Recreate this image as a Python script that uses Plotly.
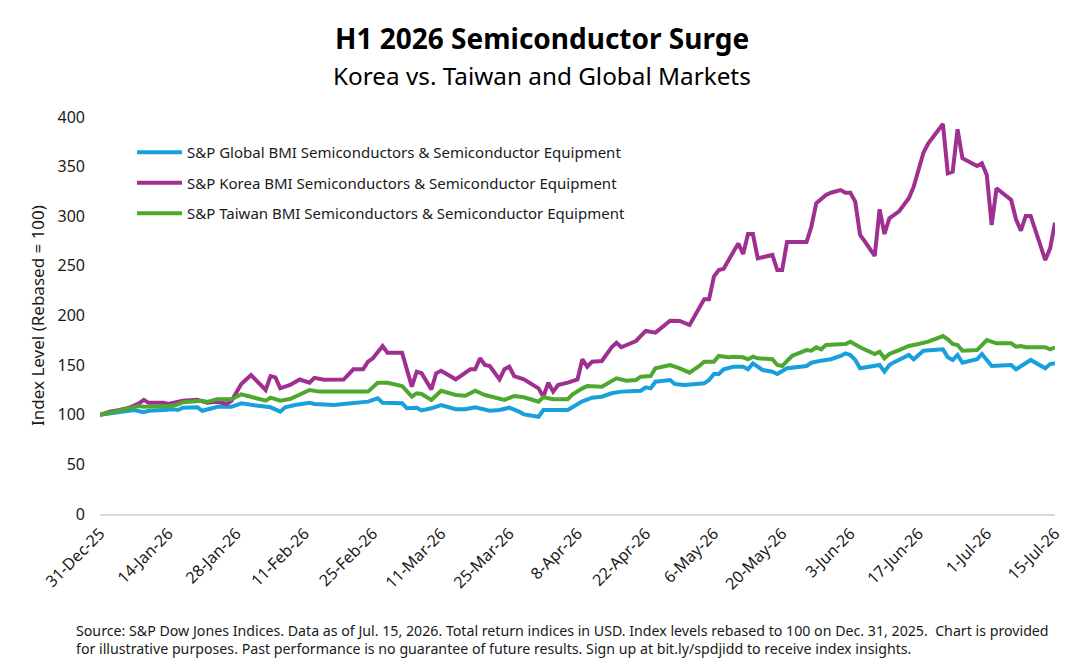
import plotly.graph_objects as go

# ---------------- data ----------------
global_dates = ["2025-12-31", "2026-01-03", "2026-01-05", "2026-01-07", "2026-01-09", "2026-01-10",
                "2026-01-13", "2026-01-15", "2026-01-16", "2026-01-17", "2026-01-20", "2026-01-21",
                "2026-01-23", "2026-01-24", "2026-01-27", "2026-01-29", "2026-01-31", "2026-02-02",
                "2026-02-03", "2026-02-04", "2026-02-06", "2026-02-07", "2026-02-09", "2026-02-11",
                "2026-02-12", "2026-02-13", "2026-02-17", "2026-02-19", "2026-02-21", "2026-02-24",
                "2026-02-26", "2026-02-27", "2026-03-03", "2026-03-04", "2026-03-06", "2026-03-07",
                "2026-03-09", "2026-03-11", "2026-03-14", "2026-03-16", "2026-03-18", "2026-03-21",
                "2026-03-23", "2026-03-25", "2026-03-27", "2026-03-28", "2026-03-31", "2026-04-01",
                "2026-04-06", "2026-04-07", "2026-04-09", "2026-04-11", "2026-04-13", "2026-04-15",
                "2026-04-17", "2026-04-21", "2026-04-22", "2026-04-23", "2026-04-24", "2026-04-27",
                "2026-04-28", "2026-04-30", "2026-05-04", "2026-05-05", "2026-05-06", "2026-05-07",
                "2026-05-08", "2026-05-10", "2026-05-12", "2026-05-13", "2026-05-14", "2026-05-16",
                "2026-05-18", "2026-05-19", "2026-05-21", "2026-05-25", "2026-05-26", "2026-05-28",
                "2026-05-30", "2026-06-01", "2026-06-02", "2026-06-03", "2026-06-04", "2026-06-05",
                "2026-06-09", "2026-06-10", "2026-06-11", "2026-06-12", "2026-06-15", "2026-06-16",
                "2026-06-18", "2026-06-22", "2026-06-23", "2026-06-24", "2026-06-25", "2026-06-26",
                "2026-06-29", "2026-06-30", "2026-07-02", "2026-07-06", "2026-07-07", "2026-07-10",
                "2026-07-13", "2026-07-14", "2026-07-15"]
global_values = [100, 102, 103, 104.8, 102.5, 104,
                 104.8, 105.5, 104.8, 107, 107.5, 104,
                 106.5, 108, 108, 111.5, 110, 109,
                 108.8, 107.5, 103.1, 107.5, 109.8, 110.8,
                 112.1, 110.8, 109.8, 110.8, 112.1, 113.2,
                 116.6, 112.1, 111.5, 106.5, 107, 104.3,
                 106.5, 109.8, 105.5, 105.5, 107.5, 104.1,
                 104.8, 107.1, 103.1, 100.4, 98.0, 104.8,
                 104.8, 108, 113.5, 117.2, 118.2, 121.6,
                 123.3, 124.2, 127.6, 126.6, 133.3, 135,
                 131, 130, 131.7, 135, 141.1, 141.1,
                 145.8, 148.4, 148.4, 145.8, 151.8, 145.1,
                 143.4, 141.1, 146.8, 149.1, 152.4, 154.5,
                 155.9, 159.2, 161.9, 160.2, 155.2, 146.8,
                 150.1, 143.4, 150.1, 153, 160.2, 155.9,
                 164.6, 165.9, 157.9, 155.2, 160.2, 152.4,
                 155.9, 161.2, 149.1, 150.1, 145.8, 155.2,
                 146.8, 151.1, 151.8]

korea_dates = ["2025-12-31", "2026-01-02", "2026-01-04", "2026-01-06", "2026-01-08", "2026-01-09",
               "2026-01-10", "2026-01-13", "2026-01-14", "2026-01-15", "2026-01-17", "2026-01-20",
               "2026-01-22", "2026-01-24", "2026-01-26", "2026-01-27", "2026-01-29", "2026-01-31",
               "2026-02-03", "2026-02-04", "2026-02-05", "2026-02-06", "2026-02-08", "2026-02-10",
               "2026-02-12", "2026-02-13", "2026-02-15", "2026-02-19", "2026-02-21", "2026-02-23",
               "2026-02-24", "2026-02-25", "2026-02-27", "2026-02-28", "2026-03-03", "2026-03-05",
               "2026-03-06", "2026-03-07", "2026-03-08", "2026-03-09", "2026-03-10", "2026-03-11",
               "2026-03-14", "2026-03-16", "2026-03-17", "2026-03-18", "2026-03-19", "2026-03-20",
               "2026-03-21", "2026-03-23", "2026-03-24", "2026-03-25", "2026-03-26", "2026-03-28",
               "2026-03-31", "2026-04-01", "2026-04-02", "2026-04-03", "2026-04-04", "2026-04-06",
               "2026-04-08", "2026-04-09", "2026-04-10", "2026-04-11", "2026-04-13", "2026-04-15",
               "2026-04-16", "2026-04-17", "2026-04-20", "2026-04-22", "2026-04-24", "2026-04-27",
               "2026-04-29", "2026-05-01", "2026-05-02", "2026-05-04", "2026-05-05", "2026-05-06",
               "2026-05-07", "2026-05-08", "2026-05-10", "2026-05-11", "2026-05-12", "2026-05-13",
               "2026-05-14", "2026-05-15", "2026-05-18", "2026-05-19", "2026-05-20", "2026-05-21",
               "2026-05-25", "2026-05-26", "2026-05-27", "2026-05-29", "2026-05-30", "2026-06-01",
               "2026-06-02", "2026-06-03", "2026-06-04", "2026-06-05", "2026-06-06", "2026-06-08",
               "2026-06-09", "2026-06-10", "2026-06-11", "2026-06-13", "2026-06-15", "2026-06-16",
               "2026-06-18", "2026-06-19", "2026-06-22", "2026-06-23", "2026-06-24", "2026-06-25",
               "2026-06-26", "2026-06-29", "2026-06-30", "2026-07-01", "2026-07-02", "2026-07-03",
               "2026-07-06", "2026-07-07", "2026-07-08", "2026-07-09", "2026-07-10", "2026-07-13",
               "2026-07-14", "2026-07-15"]
korea_values = [100, 103, 104.8, 107, 111.5, 115,
                112, 112, 110.8, 112, 114, 115,
                112, 113, 111, 114, 131, 140,
                125, 139, 137.7, 126.6, 130, 135.5,
                132.3, 137.2, 135.3, 135.5, 145.8, 145.8,
                153.5, 156.9, 169.3, 162.5, 162.5, 128.3,
                143.4, 141.8, 133.3, 125.6, 141.8, 144.4,
                135.7, 141.8, 145.8, 145.8, 156.9, 150.1,
                149.1, 135.7, 145.8, 148.4, 139, 135.7,
                126.6, 118.2, 132.3, 123.3, 130, 132.3,
                135.5, 155.9, 148.4, 153.5, 154.2, 168,
                172.6, 168, 174.3, 184.4, 182.7, 194.8,
                194.5, 190.4, 198.8, 216.3, 216.3, 239.1,
                245.8, 247, 264.3, 272.5, 262, 282.1,
                282.1, 257.6, 261, 245.8, 245.8, 274,
                274, 289.5, 313, 321.4, 323.7, 326.4,
                323.7, 323.7, 314.7, 281.1, 274.4, 260,
                307, 282.1, 297.9, 305, 318.1, 329.8,
                364, 373.5, 393, 343.3, 344.9, 387.6,
                358.4, 350.6, 353.3, 341.6, 291.2, 328.2,
                316.4, 296.9, 285.4, 300.3, 300.3, 255.9,
                267.7, 293.5]

taiwan_dates = ["2025-12-31", "2026-01-03", "2026-01-06", "2026-01-08", "2026-01-09", "2026-01-13",
                "2026-01-15", "2026-01-16", "2026-01-17", "2026-01-21", "2026-01-22", "2026-01-24",
                "2026-01-27", "2026-01-29", "2026-01-31", "2026-02-01", "2026-02-03", "2026-02-04",
                "2026-02-06", "2026-02-08", "2026-02-10", "2026-02-12", "2026-02-14", "2026-02-24",
                "2026-02-26", "2026-02-28", "2026-03-03", "2026-03-05", "2026-03-06", "2026-03-07",
                "2026-03-09", "2026-03-11", "2026-03-14", "2026-03-16", "2026-03-18", "2026-03-20",
                "2026-03-24", "2026-03-26", "2026-03-28", "2026-03-31", "2026-04-01", "2026-04-03",
                "2026-04-06", "2026-04-07", "2026-04-09", "2026-04-10", "2026-04-13", "2026-04-15",
                "2026-04-16", "2026-04-18", "2026-04-20", "2026-04-21", "2026-04-23", "2026-04-24",
                "2026-04-27", "2026-04-29", "2026-05-01", "2026-05-03", "2026-05-04", "2026-05-06",
                "2026-05-07", "2026-05-09", "2026-05-10", "2026-05-12", "2026-05-13", "2026-05-14",
                "2026-05-15", "2026-05-18", "2026-05-19", "2026-05-20", "2026-05-22", "2026-05-25",
                "2026-05-26", "2026-05-27", "2026-05-28", "2026-05-29", "2026-06-02", "2026-06-03",
                "2026-06-05", "2026-06-08", "2026-06-09", "2026-06-10", "2026-06-11", "2026-06-13",
                "2026-06-15", "2026-06-17", "2026-06-18", "2026-06-19", "2026-06-22", "2026-06-23",
                "2026-06-24", "2026-06-25", "2026-06-26", "2026-06-29", "2026-07-01", "2026-07-03",
                "2026-07-06", "2026-07-07", "2026-07-08", "2026-07-09", "2026-07-13", "2026-07-14",
                "2026-07-15"]
taiwan_values = [100, 103, 106.5, 108.8, 108, 108,
                 109, 110.5, 112.5, 114, 113, 115.5,
                 115.5, 120.6, 118, 116.6, 114.2, 117.2,
                 114.2, 115.9, 119.9, 124.9, 123.3, 123.3,
                 132.3, 132.3, 129, 118.2, 121.6, 120.9,
                 114.9, 124.2, 119.9, 119.2, 124.2, 119.9,
                 114.9, 118.9, 117.6, 113.2, 117.6, 115.6,
                 115.6, 120.5, 126.6, 129, 128.3, 133.3,
                 136.7, 134.3, 135, 138.4, 139, 146.8,
                 150.1, 146.8, 142.4, 149.1, 153.5, 153.5,
                 159.2, 157.9, 158.5, 157.9, 155.9, 158.5,
                 156.9, 155.9, 150.1, 149.1, 159.2, 165.2,
                 164.6, 168, 165.9, 170.3, 171.3, 173.6,
                 168, 161.2, 163.5, 156.9, 161.2, 165.2,
                 169.3, 171.3, 172.6, 173.6, 179.3, 176,
                 171.3, 170.3, 164.6, 165.2, 175.3, 172,
                 172, 168.6, 169.3, 168, 168, 165.9,
                 168]

series_names = ["S&P Global BMI Semiconductors & Semiconductor Equipment",
                "S&P Korea BMI Semiconductors & Semiconductor Equipment",
                "S&P Taiwan BMI Semiconductors & Semiconductor Equipment"]
series_colors = ["#17A0DB", "#A02F92", "#4EA72E"]

tick_dates = ["2025-12-31", "2026-01-14", "2026-01-28", "2026-02-11", "2026-02-25", "2026-03-11",
              "2026-03-25", "2026-04-08", "2026-04-22", "2026-05-06", "2026-05-20", "2026-06-03",
              "2026-06-17", "2026-07-01", "2026-07-15"]
tick_labels = ["31-Dec-25", "14-Jan-26", "28-Jan-26", "11-Feb-26", "25-Feb-26", "11-Mar-26",
               "25-Mar-26", "8-Apr-26", "22-Apr-26", "6-May-26", "20-May-26", "3-Jun-26",
               "17-Jun-26", "1-Jul-26", "15-Jul-26"]
y_ticks = [0, 50, 100, 150, 200, 250, 300, 350, 400]

title_text = "H1 2026 Semiconductor Surge"
subtitle_text = "Korea vs. Taiwan and Global Markets"
footer_text = ("Source: S&P Dow Jones Indices. Data as of Jul. 15, 2026. Total return indices in USD. "
               "Index levels rebased to 100 on Dec. 31, 2025.  Chart is provided<br>for illustrative "
               "purposes. Past performance is no guarantee of future results. Sign up at bit.ly/spdjidd "
               "to receive index insights.")

FONT = "Noto Sans"
TXT = "#1a1a1a"

fig = go.Figure()
for i, (xs, ys) in enumerate([(global_dates, global_values),
                              (korea_dates, korea_values),
                              (taiwan_dates, taiwan_values)]):
    fig.add_trace(go.Scatter(
        x=xs, y=ys, mode="lines", name=series_names[i],
        legendgroup="g%d" % i,
        line=dict(color=series_colors[i], width=4, shape="linear"),
    ))

fig.update_layout(
    width=1085, height=668,
    margin=dict(l=100, r=30, t=117, b=154),
    paper_bgcolor="white", plot_bgcolor="white",
    font=dict(family=FONT, color=TXT, size=14),
    showlegend=True,
    legend=dict(
        x=0.0335, y=0.952, xanchor="left", yanchor="top",
        font=dict(size=15, family=FONT, color=TXT),
        bgcolor="rgba(0,0,0,0)", tracegroupgap=8, itemwidth=45,
    ),
    xaxis=dict(
        type="date",
        range=["2025-12-31", "2026-07-15"],
        tickmode="array", tickvals=tick_dates, ticktext=tick_labels,
        tickangle=-45, tickfont=dict(size=16, family=FONT, color=TXT),
        showgrid=False, zeroline=False,
        showline=True, linecolor="#D9D9D9", linewidth=2,
        ticks="", ticklabelstandoff=2,
    ),
    yaxis=dict(
        range=[0, 400], tickvals=y_ticks,
        tickfont=dict(size=16, family=FONT, color=TXT),
        showgrid=False, zeroline=False, showline=False,
        ticks="", ticklabelstandoff=14,
        title=dict(text="Index Level (Rebased = 100)", font=dict(size=17, family=FONT, color=TXT), standoff=8),
    ),
)

fig.add_annotation(
    text="<b>" + title_text + "</b>",
    xref="paper", yref="paper", x=0.463, y=(514 - 38) / 397.0, xanchor="center", yanchor="middle",
    showarrow=False, font=dict(size=28, family=FONT, color="#000000"),
)
fig.add_annotation(
    text=subtitle_text,
    xref="paper", yref="paper", x=0.463, y=(514 - 75) / 397.0, xanchor="center", yanchor="middle",
    showarrow=False, font=dict(size=24.3, family=FONT, color="#000000"),
)
fig.add_annotation(
    text=footer_text,
    xref="paper", yref="paper", x=-0.027, y=-(619 - 514) / 397.0, xanchor="left", yanchor="top",
    showarrow=False, align="left",
    font=dict(size=14.2, family=FONT, color=TXT),
)

fig.write_html("out.html")
